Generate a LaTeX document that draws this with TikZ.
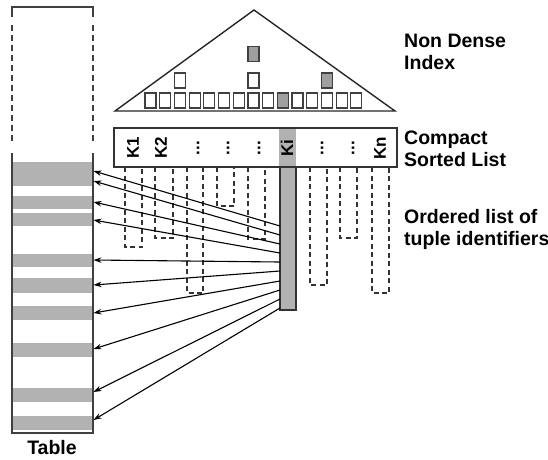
\documentclass[tikz,border=0pt]{standalone}
\usepackage{fontspec}
\setmainfont{Liberation Sans}
\usetikzlibrary{arrows.meta}
\tikzset{
  tri/.style={draw=black!85, line width=1.4pt, line join=miter},
  ibox/.style={rectangle, draw=black!75, line width=1.2pt, fill=white, minimum width=11pt, minimum height=15pt, inner sep=0pt},
  gbox/.style={ibox, fill=gray!75},
  lbl/.style={font=\bfseries\fontsize{19.5}{22}\selectfont, align=left, anchor=west, inner sep=0pt},
  keylbl/.style={font=\bfseries\fontsize{17}{18}\selectfont, rotate=90, inner sep=0pt},
  dcol/.style={draw=black!80, line width=1.2pt, dash pattern=on 5pt off 3.5pt},
  tline/.style={draw=black!75, line width=1.4pt},
  tdash/.style={tline, dash pattern=on 5.5pt off 4.5pt},
  arr/.style={draw=black, line width=1.1pt, -{Stealth[length=8pt,width=5.5pt]}},
  stripe/.style={fill=gray!60, draw=none},
}
\begin{document}
\begin{tikzpicture}[x=1pt,y=-1pt]
\useasboundingbox (0,0) rectangle (548,459);
% triangle index
\draw[tri] (254,10) -- (395,111) -- (115,111) -- cycle;
\foreach \i in {0,...,14}{
  \ifnum\i=9
    \node[gbox] (b\i) at ({150.5+14.7*\i},100.5) {};
  \else
    \node[ibox] (b\i) at ({150.5+14.7*\i},100.5) {};
  \fi
}
\node[ibox] (m2) at (180,80.5) {};
\node[ibox] (m7) at (253.4,80.5) {};
\node[gbox] (m12) at (326.9,80.5) {};
\node[gbox] (t7) at (253.4,54) {};
% compact sorted list
\fill[gray!60] (279,128) rectangle (296,167);
\node[rectangle, draw=black!80, line width=1.3pt, minimum width=283pt, minimum height=39pt, inner sep=0pt] (list) at (255.5,147.5) {};
\node[keylbl] (k1) at (133,148) {K1};
\node[keylbl] (k2) at (161,148) {K2};
\node[keylbl] (d1) at (198,148) {...};
\node[keylbl] (d2) at (228,148) {...};
\node[keylbl] (d3) at (259,148) {...};
\node[keylbl] (ki) at (287,148) {Ki};
\node[keylbl] (d4) at (322,148) {...};
\node[keylbl] (d5) at (353,148) {...};
\node[keylbl] (kn) at (380,148) {Kn};
% dashed tuple lists
\foreach \l/\r/\b in {125/142/247,155/173/238,187/203/293,217/234/206,248/265/239,310/327/285,340/357/238,372/389/293}{
  \draw[dcol] (\l,167) -- (\l,\b) -- (\r,\b) -- (\r,167);
}
% table
\foreach \a/\b in {162/186,196/209,213/226,254/267,278/293,306/320,343/357,388/402,416/430}{
  \fill[stripe] (12,\a) rectangle (93,\b);
}
\draw[tline] (12,17) -- (12,7) -- (93,7) -- (93,17);
\draw[tdash] (12,25) -- (12,142);
\draw[tdash] (93,25) -- (93,142);
\draw[tline] (12,153) -- (12,433) -- (93,433) -- (93,153);
\node[font=\bfseries\fontsize{19.5}{22}\selectfont, inner sep=0pt] (tbl) at (52,448) {Table};
% Ki tuple list bar
\node[rectangle, draw=black!80, fill=gray!60, line width=1.2pt, minimum width=16pt, minimum height=143pt, inner sep=0pt] (bar) at (288,238.5) {};
% arrows
\foreach \s/\e [count=\k] in {226/171,235/181,244/202,253/220,262/260,271/285,281/313,290/349,299/392,308/420}{
  \coordinate (s\k) at (280,\s);
  \coordinate (e\k) at (93.5,\e);
  \draw[arr] (s\k) -- (e\k);
}
% labels
\node[lbl] (ndi) at (404,52) {Non Dense\\Index};
\node[lbl] (csl) at (404,149) {Compact\\Sorted List};
\node[lbl] (olt) at (404,229) {Ordered list of\\tuple identifiers};
\end{tikzpicture}
\end{document}
